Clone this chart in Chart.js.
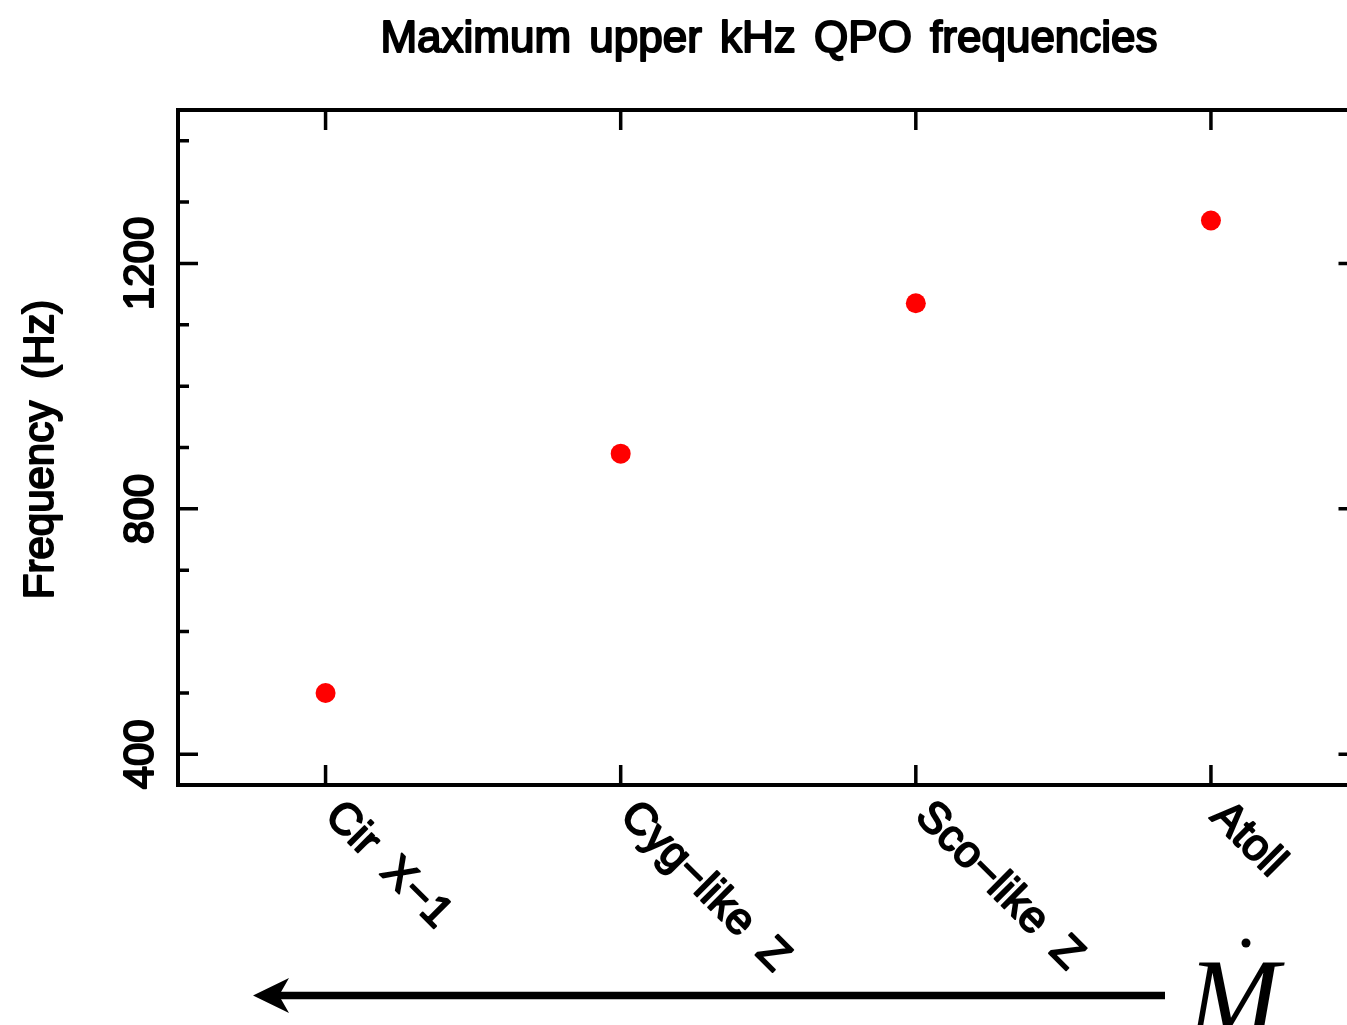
<!DOCTYPE html>
<html>
<head>
<meta charset="utf-8">
<title>Maximum upper kHz QPO frequencies</title>
<script src="https://cdn.jsdelivr.net/npm/chart.js@4.4.1/dist/chart.umd.min.js"></script>
<style>
    html, body { margin: 0; padding: 0; background: #fff; overflow: hidden; }
    #wrap { width: 1400px; height: 1025px; overflow: hidden; }
    #qpoChart { display: block; }
</style>
</head>
<body>
<div id="wrap"><canvas id="qpoChart" width="1360" height="1025"></canvas></div>
<script>
// source classes and the highest upper kHz QPO seen in each
const categories = ['Cir X\u22121', 'Cyg\u2212like Z', 'Sco\u2212like Z', 'Atoll'];
const maxFreq = [500, 890, 1135, 1270];

// axis ticks
const yMajorTicks = [400, 800, 1200];
const yMinorTicks = [400, 500, 600, 700, 800, 900, 1000, 1100, 1200, 1300, 1400];
const yRange = [350, 1450];

const titleText = 'Maximum upper kHz QPO frequencies';
const yAxisTitle = 'Frequency (Hz)';

const labelFont = '42px "Liberation Sans", Arial, sans-serif';
const catFont = '44px "Liberation Sans", Arial, sans-serif';

function drawText(ctx, text, x, y, angle, align, baseline, font, gap) {
    ctx.save();
    ctx.translate(x, y);
    ctx.rotate(angle);
    ctx.font = font;
    ctx.textAlign = align;
    ctx.textBaseline = baseline;
    ctx.fillStyle = '#000';
    ctx.strokeStyle = '#000';
    ctx.lineWidth = 2;
    ctx.lineJoin = 'round';
    ctx.wordSpacing = (gap || 10) + 'px';
    ctx.fillText(text, 0, 0);
    ctx.strokeText(text, 0, 0);
    ctx.restore();
}

// frame, ticks, labels and the accretion-rate arrow
const framePlugin = {
    id: 'framePlugin',
    afterDraw(chart) {
        const ctx = chart.ctx;
        const area = chart.chartArea;
        const xs = chart.scales.x;
        const ys = chart.scales.y;

        ctx.save();
        ctx.strokeStyle = '#000';
        ctx.lineCap = 'butt';

        // box
        ctx.lineWidth = 4;
        ctx.strokeRect(area.left, area.top, area.right - area.left, area.bottom - area.top);

        // y ticks, left and right
        ctx.lineWidth = 3.5;
        yMinorTicks.forEach(v => {
            const py = ys.getPixelForValue(v);
            const len = yMajorTicks.includes(v) ? 20 : 11;
            ctx.beginPath();
            ctx.moveTo(area.left, py);
            ctx.lineTo(area.left + len, py);
            ctx.moveTo(area.right, py);
            ctx.lineTo(area.right - len, py);
            ctx.stroke();
        });

        // x ticks, top and bottom
        categories.forEach((c, i) => {
            const px = xs.getPixelForValue(i);
            ctx.beginPath();
            ctx.moveTo(px, area.top);
            ctx.lineTo(px, area.top + 20);
            ctx.moveTo(px, area.bottom);
            ctx.lineTo(px, area.bottom - 20);
            ctx.stroke();
        });
        ctx.restore();

        // y tick labels
        yMajorTicks.forEach(v => {
            drawText(ctx, String(v), 153, ys.getPixelForValue(v), -Math.PI / 2, 'center', 'alphabetic', labelFont);
        });

        // category labels, turned 45 degrees clockwise
        categories.forEach((c, i) => {
            const px = xs.getPixelForValue(i);
            drawText(ctx, c, px - 2, area.bottom + 33, Math.PI / 4, 'left', 'alphabetic', catFont);
        });

        // titles
        drawText(ctx, titleText, 769, 52, 0, 'center', 'alphabetic', '44px "Liberation Sans", Arial, sans-serif', 6);
        drawText(ctx, yAxisTitle, 53, (area.top + area.bottom) / 2 + 2, -Math.PI / 2, 'center', 'alphabetic', labelFont);

        // arrow pointing to lower accretion rate
        ctx.save();
        ctx.fillStyle = '#000';
        ctx.strokeStyle = '#000';
        ctx.lineWidth = 7.5;
        ctx.beginPath();
        ctx.moveTo(1165, 995.5);
        ctx.lineTo(275, 995.5);
        ctx.stroke();
        ctx.beginPath();
        ctx.moveTo(253, 995.5);
        ctx.lineTo(289, 978);
        ctx.lineTo(279, 995.5);
        ctx.lineTo(289, 1013);
        ctx.closePath();
        ctx.fill();

        // M-dot
        ctx.font = 'italic 110px "Liberation Serif", "Times New Roman", serif';
        ctx.textAlign = 'left';
        ctx.textBaseline = 'alphabetic';
        ctx.fillText('M', 1188, 1035);
        ctx.beginPath();
        ctx.arc(1246, 943, 4.5, 0, Math.PI * 2);
        ctx.fill();
        ctx.restore();
    }
};

const points = categories.map((c, i) => ({ x: i, y: maxFreq[i] }));

new Chart(document.getElementById('qpoChart'), {
    type: 'scatter',
    data: {
        datasets: [{
            label: 'Max upper kHz QPO',
            data: points,
            backgroundColor: '#ff0000',
            borderWidth: 0,
            pointRadius: 10,
            pointHoverRadius: 10
        }]
    },
    options: {
        responsive: false,
        animation: false,
        devicePixelRatio: 1,
        layout: {
            autoPadding: false,
            padding: { left: 178, right: 1.5, top: 110, bottom: 240 }
        },
        plugins: {
            legend: { display: false },
            tooltip: { enabled: false }
        },
        scales: {
            x: { type: 'linear', min: -0.5, max: 3.5, display: false },
            y: { type: 'linear', min: yRange[0], max: yRange[1], display: false }
        }
    },
    plugins: [framePlugin]
});
</script>
</body>
</html>
